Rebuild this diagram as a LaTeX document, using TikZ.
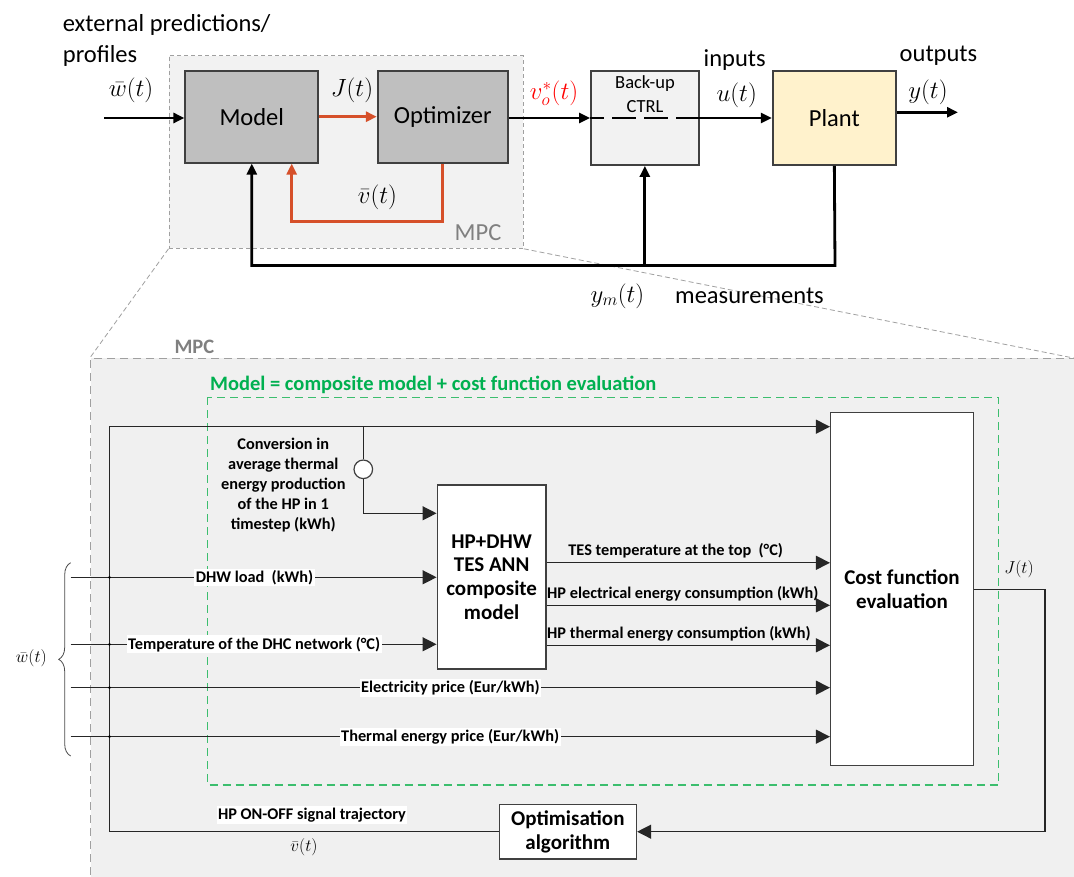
\documentclass[tikz,border=0pt]{standalone}
\usepackage{fontspec}
\setmainfont{Carlito}
\usetikzlibrary{arrows.meta,decorations.pathreplacing,calc}
\definecolor{boxgray}{RGB}{191,191,191}
\definecolor{mpcfill}{RGB}{242,242,242}
\definecolor{lowfill}{RGB}{240,240,240}
\definecolor{dashgray}{RGB}{160,160,160}
\definecolor{mpctext}{RGB}{128,128,128}
\definecolor{plantfill}{RGB}{255,242,204}
\definecolor{redline}{RGB}{214,80,42}
\definecolor{greentext}{RGB}{0,176,80}
\definecolor{greendash}{RGB}{60,190,110}
\definecolor{edgec}{RGB}{64,64,64}
\newcommand{\myfs}[1]{\fontsize{#1}{#1}\selectfont}
\begin{document}
\begin{tikzpicture}[x=1pt,y=-1pt,
 topbox/.style={draw=edgec,line width=1.8pt,inner sep=0pt,font=\myfs{24.5}},
 toplbl/.style={inner sep=0pt,font=\myfs{24.5}},
 mathlbl/.style={inner sep=0pt,font=\myfs{25.5}},
 thickarr/.style={line width=2.8pt,-{Triangle[length=11pt,width=10pt]}},
 thickline/.style={line width=2.8pt},
 lowbox/.style={draw=edgec,line width=1.5pt,fill=white,inner sep=0pt,align=center,font=\bfseries\fontsize{21}{23.8}\selectfont},
 lowline/.style={line width=1.3pt,draw=black!85},
 lowarr/.style={lowline,-{Triangle[length=14pt,width=14pt]}},
 linelbl/.style={inner sep=1.5pt,font=\bfseries\myfs{16.3}},
 onlbl/.style={linelbl,fill=white},
 dot/.style={circle,fill=black,inner sep=0pt,minimum size=3pt},
 lowmath/.style={inner sep=0pt,font=\myfs{17}}
]
\clip (0,0) rectangle (1074,877);
\fill[white] (0,0) rectangle (1074,877);

% ---------- top part ----------
\node[draw=dashgray,dash pattern=on 4pt off 3pt,line width=1pt,fill=mpcfill,
      minimum width=354.3pt,minimum height=192.6pt,inner sep=0pt] (mpctop) at (346.15,152) {};
\node[draw=dashgray,dash pattern=on 8pt off 5pt,line width=1.2pt,fill=lowfill,
      minimum width=989.5pt,minimum height=541.5pt,inner sep=0pt] (mpclow) at (585.25,629.25) {};
\coordinate (zr) at (1076,358.5);
\draw[dashgray,dash pattern=on 5pt off 3pt,line width=0.8pt] (mpctop.south west) -- (mpclow.north west);
\draw[dashgray,dash pattern=on 5pt off 3pt,line width=0.8pt] (mpctop.south east) -- (zr);

\node[topbox,fill=boxgray,minimum width=133pt,minimum height=92pt] (model) at (251.8,116.7) {Model};
\node[topbox,fill=boxgray,minimum width=130pt,minimum height=92pt] (opt) at (442.7,116.7) {Optimizer};
\node[topbox,fill=mpcfill,minimum width=107.7pt,minimum height=94.3pt] (backup) at (644.85,117.85) {};
\node[topbox,fill=plantfill,minimum width=123.3pt,minimum height=94.3pt] (plant) at (834.35,117.85) {Plant};

\node[inner sep=0pt,font=\myfs{18.5},anchor=base] (bk1) at (645,89) {Back-up};
\node[inner sep=0pt,font=\myfs{18.5},anchor=base] (bk2) at (645,112.3) {CTRL};

\coordinate (win) at (104,118);
\draw[thickarr] (win) -- (win -| model.west);
\draw[thickarr,redline] (model.east) -- (opt.west);
\coordinate (rfc) at (291.7,221.7);
\draw[thickarr,redline] (opt.south) |- (rfc) -- (rfc |- model.south);
\coordinate (bus) at (835,265.5);
\draw[thickarr] (plant.south) -- (bus) -| (model.south);
\coordinate (jb) at (backup.south |- bus);
\draw[thickarr] (jb) -- (backup.south);
\draw[thickarr] (opt.east |- win) -- (backup.west |- win);
\draw[thickline,dash pattern=on 24pt off 8pt,dash phase=10pt] (backup.west |- win) -- (backup.east |- win);
\draw[thickarr] (backup.east |- win) -- (plant.west |- win);
\coordinate (yout) at (958,112.3);
\draw[thickarr] (plant.east |- yout) -- (yout);

\node[toplbl,anchor=base west] (ext1) at (62.7,31.5) {external predictions/};
\node[toplbl,anchor=base west] (ext2) at (62.7,62.5) {profiles};
\node[mathlbl] (wt) at (131,90) {$\bar{w}(t)$};
\node[mathlbl] (jtop) at (352,90) {$J(t)$};
\node[mathlbl] (vtop) at (377.5,197.5) {$\bar{v}(t)$};
\node[mathlbl,text=red] (vo) at (554,93) {$v_o^{*}(t)$};
\node[toplbl,anchor=base] (inp) at (734.7,66.7) {inputs};
\node[mathlbl] (ut) at (736.7,95) {$u(t)$};
\node[toplbl,anchor=base] (outp) at (938.5,61.7) {outputs};
\node[mathlbl] (yt) at (928,92) {$y(t)$};
\node[mathlbl] (ym) at (617.5,296) {$y_m(t)$};
\node[toplbl,anchor=base west] (meas) at (675,303.3) {measurements};
\node[toplbl,anchor=base,text=mpctext] (mpct) at (478,241) {MPC};

% ---------- lower part ----------
\node[inner sep=0pt,anchor=base west,text=mpctext,font=\bfseries\myfs{20.5}] (mpcl) at (174.3,353.3) {MPC};
\draw[greendash,dash pattern=on 8pt off 5pt,line width=1.3pt] (207.3,397.3) rectangle (998.3,785);
\node[inner sep=0pt,anchor=base west,text=greentext,font=\bfseries\myfs{20.5}] (glbl) at (210,391) {Model = composite model + cost function evaluation};

\node[lowbox,minimum width=108.7pt,minimum height=184pt] (hp) at (491.65,577) {HP+DHW\\TES ANN\\composite\\model};
\node[lowbox,minimum width=142.6pt,minimum height=353pt] (cost) at (902,589.2) {Cost function\\evaluation};
\node[lowbox,minimum width=137.1pt,minimum height=54.7pt] (algo) at (567.85,831.7) {Optimisation\\algorithm};
\node[circle,draw=edgec,line width=1.2pt,fill=white,minimum size=18.6pt,inner sep=0pt] (conv) at (363.3,469.3) {};
\node[inner sep=0pt,align=center,font=\bfseries\fontsize{16.3}{19.8}\selectfont] (convtxt) at (283.3,485) {Conversion in\\average thermal\\energy production\\of the HP in 1\\timestep (kWh)};

\coordinate (bust) at (109.5,426.7);
\draw[lowarr] (algo.west) -- (algo.west -| bust) -- (bust) -- (bust -| cost.west);
\coordinate (brt) at (363.3,426.7);
\draw[lowline] (brt) -- (conv.north);
\coordinate (c0) at (0,513.3);
\draw[lowarr] (conv.south) |- (hp.west |- c0);

\coordinate (in1) at (70.7,577.3);
\coordinate (in2) at (70.7,644.3);
\coordinate (in3) at (70.7,687.7);
\coordinate (in4) at (70.7,736.7);
\draw[lowarr] (in1) -- (in1 -| hp.west);
\draw[lowarr] (in2) -- (in2 -| hp.west);
\draw[lowarr] (in3) -- (in3 -| cost.west);
\draw[lowarr] (in4) -- (in4 -| cost.west);
\node[dot] (d1) at (in1 -| bust) {};
\node[dot] (d2) at (in2 -| bust) {};
\node[dot] (d3) at (in3 -| bust) {};
\node[dot] (d4) at (in4 -| bust) {};

\coordinate (o1) at (0,562.8);
\coordinate (o2) at (0,605.3);
\coordinate (o3) at (0,645.3);
\draw[lowarr] (hp.east |- o1) -- (cost.west |- o1);
\draw[lowarr] (hp.east |- o2) -- (cost.west |- o2);
\draw[lowarr] (hp.east |- o3) -- (cost.west |- o3);

\coordinate (jr) at (1045,589.3);
\draw[lowarr] (cost.east |- jr) -- (jr) |- (algo.east);

\node[onlbl] (l1) at (254.5,577.3) {DHW load\ \ (kWh)};
\node[onlbl] (l2) at (254.2,644.3) {Temperature of the DHC network (°C)};
\node[onlbl,anchor=west] (l3) at (359.5,687.7) {Electricity price (Eur/kWh)};
\node[onlbl,anchor=west] (l4) at (339.5,736.7) {Thermal energy price (Eur/kWh)};
\node[linelbl] (l5) at (675.7,551) {TES temperature at the top\ \ (°C)};
\node[linelbl,anchor=west] (l6) at (545.5,594) {HP electrical energy consumption (kWh)};
\node[linelbl,anchor=west] (l7) at (545.5,634) {HP thermal energy consumption (kWh)};
\node[onlbl] (l8) at (312,815) {HP ON-OFF signal trajectory};
\node[lowmath] (vlow) at (304,847) {$\bar{v}(t)$};
\node[lowmath,anchor=east] (wlow) at (47,658.3) {$\bar{w}(t)$};
\node[lowmath] (jlow) at (1019,569) {$J(t)$};

\draw[decorate,decoration={brace,amplitude=12pt},line width=0.8pt,black!70] (70.7,756) -- (70.7,562.7);
\end{tikzpicture}
\end{document}
